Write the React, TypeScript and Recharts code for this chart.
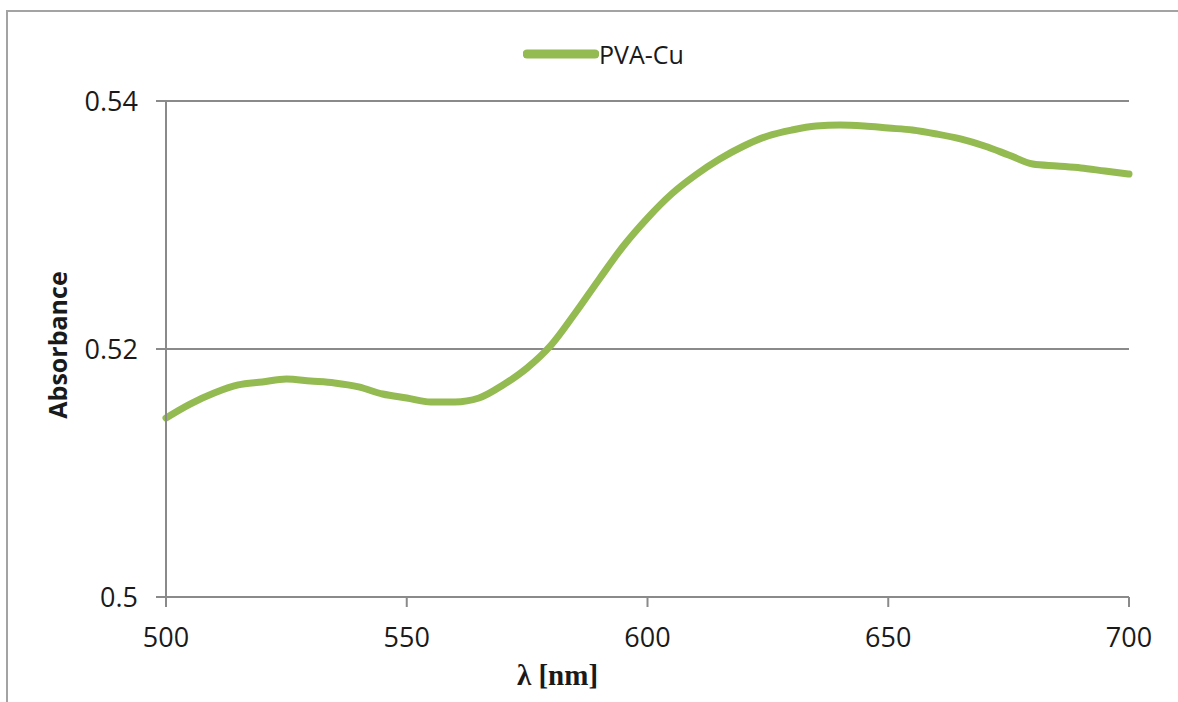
import React from "react";
import { LineChart, Line, XAxis, YAxis, CartesianGrid, Legend } from "recharts";

const wavelengths = [
  500, 505, 510, 515, 520, 525, 530, 535, 540, 545, 550, 555, 560, 565, 570, 575, 580, 585, 590, 595,
  600, 605, 610, 615, 620, 625, 630, 635, 640, 645, 650, 655, 660, 665, 670, 675, 680, 685, 690, 695, 700,
];
const absorbance = [
  0.51444, 0.51556, 0.51645, 0.5171, 0.51734, 0.51758, 0.51742, 0.51726, 0.51694, 0.51637, 0.51605,
  0.51573, 0.51573, 0.51605, 0.5171, 0.51847, 0.52032, 0.5229, 0.52565, 0.52831, 0.53056, 0.5325,
  0.53403, 0.53532, 0.53637, 0.53718, 0.53766, 0.53798, 0.53806, 0.53798, 0.53782, 0.53766, 0.53734,
  0.53694, 0.53637, 0.53565, 0.53492, 0.53476, 0.5346, 0.53435, 0.53411,
];
const xTicks = [500, 550, 600, 650, 700];
const yTicks = [0.5, 0.52, 0.54];
const seriesName = "PVA-Cu";
const xLabel = "λ [nm]";
const yLabel = "Absorbance";

const data = wavelengths.map((w, i) => ({ w, a: absorbance[i] }));

const GREEN = "#94ba52";
const AXIS = "#8a8a8a";
const FONT = "'Open Sans', sans-serif";

const LegendContent = () => (
  <div style={{ display: "flex", alignItems: "center", fontFamily: FONT, fontSize: 25, color: "#1a1a1a", height: 32 }}>
    <svg width={76} height={12}>
      <line x1={4} y1={6} x2={72} y2={6} stroke={GREEN} strokeWidth={9} strokeLinecap="round" />
    </svg>
    <span>{seriesName}</span>
  </div>
);

export default function App() {
  return (
    <div style={{ position: "fixed", left: 0, top: 0, width: 1178, height: 702, background: "#fff", overflow: "hidden" }}>
      <div
        style={{
          position: "absolute",
          left: 6,
          top: 10,
          width: 1240,
          height: 760,
          borderLeft: "2px solid #a3a3a3",
          borderTop: "2px solid #a3a3a3",
        }}
      />
      <div style={{ position: "absolute", left: 0, top: 0 }}>
        <LineChart width={1178} height={702} data={data} margin={{ top: 69, right: 49, bottom: 0, left: 0 }}>
          <CartesianGrid vertical={false} stroke={AXIS} strokeWidth={2} />
          <XAxis
            dataKey="w"
            type="number"
            domain={[500, 700]}
            ticks={xTicks}
            height={105}
            tickSize={10}
            tickMargin={21}
            stroke={AXIS}
            strokeWidth={2}
            tick={{ fill: "#1a1a1a", fontSize: 27, fontFamily: FONT }}
            label={(props: any) => {
              const vb = props.viewBox;
              return (
                <text
                  x={vb.x + vb.width / 2 - 90}
                  y={vb.y + 88}
                  textAnchor="middle"
                  style={{ fontFamily: "'Liberation Serif', serif", fontWeight: 700, fontSize: 29, fill: "#1a1a1a" }}
                >
                  {xLabel}
                </text>
              );
            }}
          />
          <YAxis
            type="number"
            domain={[0.5, 0.54]}
            ticks={yTicks}
            width={166}
            tickSize={10}
            tickMargin={18}
            stroke={AXIS}
            strokeWidth={2}
            tickFormatter={(v: number) => String(Number(v.toFixed(2)))}
            tick={{ fill: "#1a1a1a", fontSize: 27, fontFamily: FONT }}
            label={(props: any) => {
              const vb = props.viewBox;
              const cx = 57;
              const cy = vb.y + vb.height / 2 - 4;
              return (
                <text
                  x={cx}
                  y={cy}
                  transform={`rotate(-90 ${cx} ${cy})`}
                  textAnchor="middle"
                  dominantBaseline="central"
                  style={{ fontFamily: FONT, fontWeight: 700, fontSize: 25, fill: "#1a1a1a" }}
                >
                  {yLabel}
                </text>
              );
            }}
          />
          <Legend
            verticalAlign="top"
            height={32}
            content={<LegendContent />}
            wrapperStyle={{ position: "absolute", left: 523, top: 38, width: "auto" }}
          />
          <Line
            type="monotone"
            dataKey="a"
            name={seriesName}
            stroke={GREEN}
            strokeWidth={7}
            dot={false}
            strokeLinecap="round"
            isAnimationActive={false}
          />
        </LineChart>
      </div>
    </div>
  );
}
